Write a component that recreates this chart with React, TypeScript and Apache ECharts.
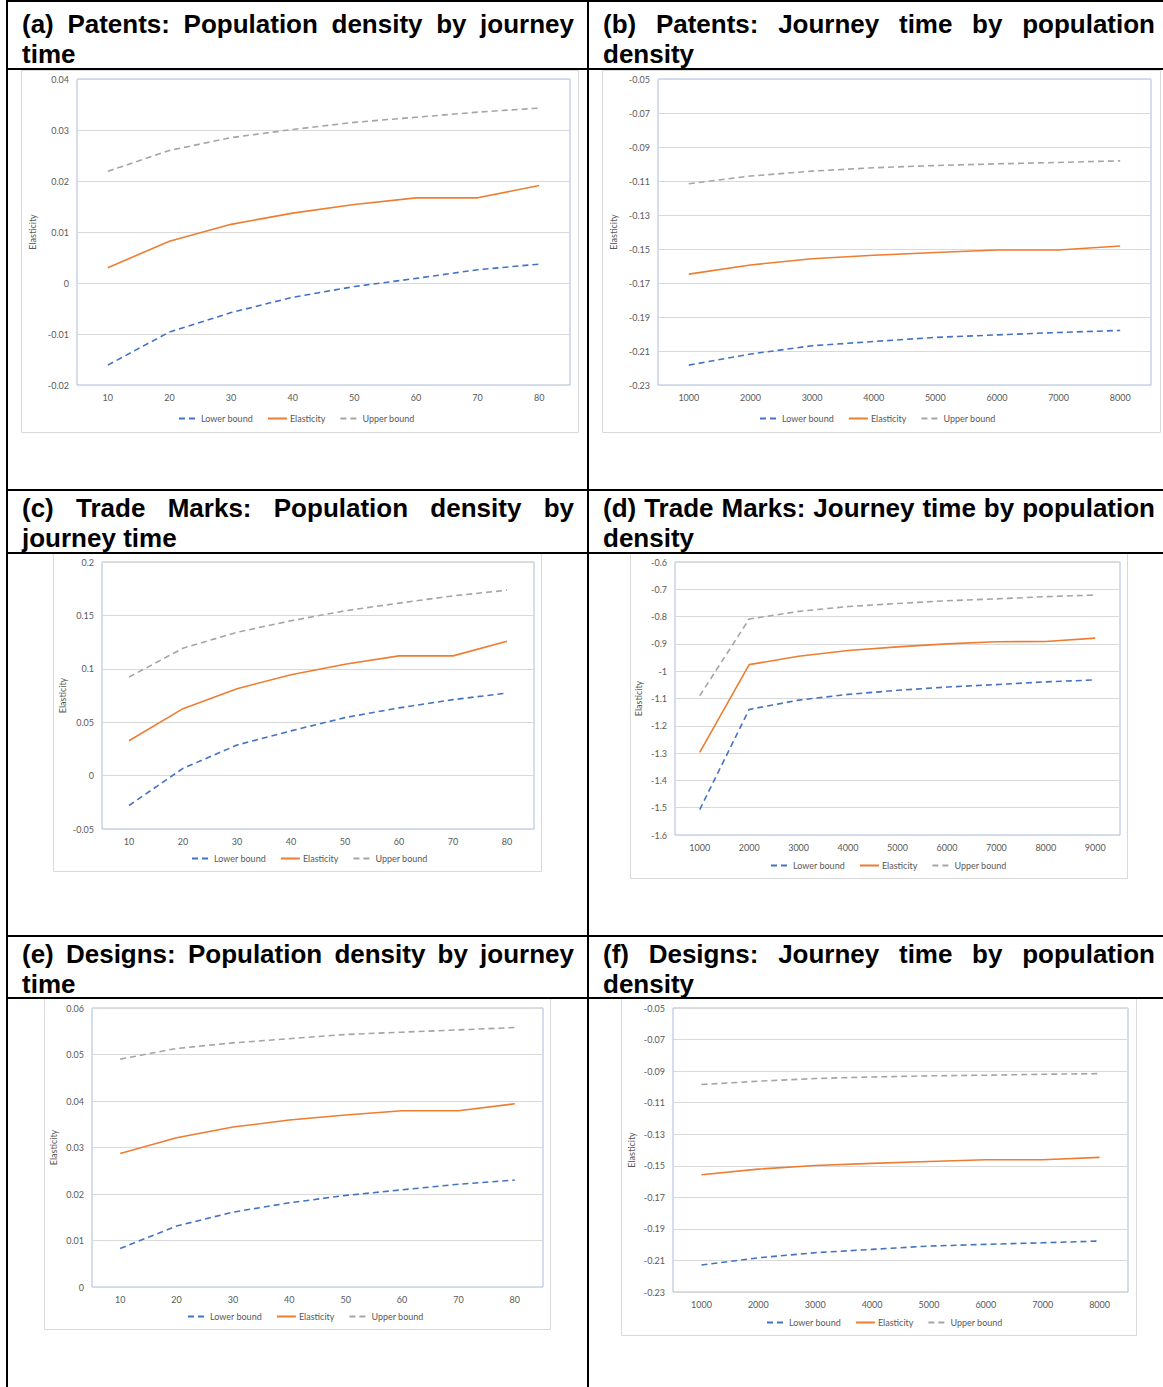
import React, { useEffect, useRef } from "react";
import * as echarts from "echarts";

// ---------- DATA ----------
const journeyCats = ["10", "20", "30", "40", "50", "60", "70", "80"];
const densityCats8 = ["1000", "2000", "3000", "4000", "5000", "6000", "7000", "8000"];
const densityCats9 = ["1000", "2000", "3000", "4000", "5000", "6000", "7000", "8000", "9000"];

const SERIES_NAMES = ["Lower bound", "Elasticity", "Upper bound"];

// (a) Patents: Population density by journey time
const aLower = [-0.0161, -0.0096, -0.0058, -0.0028, -0.0007, 0.0009, 0.0026, 0.0037];
const aElast = [0.003, 0.0082, 0.0115, 0.0137, 0.0154, 0.0167, 0.0167, 0.0191];
const aUpper = [0.0219, 0.026, 0.0285, 0.0301, 0.0315, 0.0325, 0.0335, 0.0343];
const aTicks = [-0.02, -0.01, 0, 0.01, 0.02, 0.03, 0.04];

// (b) Patents: Journey time by population density
const bLower = [-0.2183, -0.2118, -0.2069, -0.2044, -0.202, -0.2005, -0.1991, -0.1979];
const bElast = [-0.1648, -0.1594, -0.1557, -0.1537, -0.1521, -0.1506, -0.1506, -0.1482];
const bUpper = [-0.1116, -0.1071, -0.1042, -0.1022, -0.1009, -0.0999, -0.0991, -0.0981];
const bTicks = [-0.23, -0.21, -0.19, -0.17, -0.15, -0.13, -0.11, -0.09, -0.07, -0.05];

// (c) Trade Marks: Population density by journey time
const cLower = [-0.028, 0.0068, 0.0286, 0.0419, 0.0543, 0.0634, 0.0711, 0.0773];
const cElast = [0.0326, 0.0627, 0.0814, 0.0944, 0.1043, 0.1121, 0.1121, 0.1258];
const cUpper = [0.0922, 0.1193, 0.1342, 0.145, 0.1543, 0.1615, 0.1683, 0.1736];
const cTicks = [-0.05, 0, 0.05, 0.1, 0.15, 0.2];

// (d) Trade Marks: Journey time by population density
const dLower = [-1.507, -1.14, -1.106, -1.085, -1.07, -1.058, -1.049, -1.039, -1.032];
const dElast = [-1.297, -0.976, -0.945, -0.924, -0.911, -0.9, -0.892, -0.891, -0.879];
const dUpper = [-1.09, -0.809, -0.781, -0.763, -0.752, -0.742, -0.735, -0.727, -0.721];
const dTicks = [-1.6, -1.5, -1.4, -1.3, -1.2, -1.1, -1, -0.9, -0.8, -0.7, -0.6];

// (e) Designs: Population density by journey time
const eLower = [0.0083, 0.0131, 0.0161, 0.0181, 0.0197, 0.0209, 0.0221, 0.023];
const eElast = [0.0287, 0.0321, 0.0344, 0.0359, 0.037, 0.0379, 0.0379, 0.0394];
const eUpper = [0.049, 0.0513, 0.0525, 0.0534, 0.0543, 0.0548, 0.0553, 0.0558];
const eTicks = [0, 0.01, 0.02, 0.03, 0.04, 0.05, 0.06];

// (f) Designs: Journey time by population density
const fLower = [-0.2129, -0.2083, -0.2051, -0.203, -0.2009, -0.1998, -0.1988, -0.1977];
const fElast = [-0.1557, -0.1521, -0.1498, -0.1485, -0.1473, -0.1462, -0.1462, -0.1447];
const fUpper = [-0.0985, -0.0964, -0.0947, -0.0937, -0.093, -0.0926, -0.092, -0.0916];
const fTicks = [-0.23, -0.21, -0.19, -0.17, -0.15, -0.13, -0.11, -0.09, -0.07, -0.05];

const headerTexts = [
  "(a) Patents: Population density by journey time",
  "(b) Patents: Journey time by population density",
  "(c) Trade Marks: Population density by journey time",
  "(d) Trade Marks: Journey time by population density",
  "(e) Designs: Population density by journey time",
  "(f) Designs: Journey time by population density",
];

// ---------- LAYOUT ----------
const W = 1163;
const H = 1387;
const FONT = "Lato, 'Liberation Sans', sans-serif";
const LABEL_COLOR = "#595959";

const panels = [
  {
    cats: journeyCats, series: [aLower, aElast, aUpper], ticks: aTicks,
    grid: { left: 77, top: 79, width: 493, height: 306 },
    box: { x: 21, y: 70, w: 557, h: 362 }, legend: { left: 178, cy: 419 }, nameGap: 40,
  },
  {
    cats: densityCats8, series: [bLower, bElast, bUpper], ticks: bTicks,
    grid: { left: 658, top: 79, width: 493, height: 306 },
    box: { x: 602, y: 70, w: 558, h: 362 }, legend: { left: 759, cy: 419 }, nameGap: 40,
  },
  {
    cats: journeyCats, series: [cLower, cElast, cUpper], ticks: cTicks,
    grid: { left: 102, top: 562, width: 432, height: 267 },
    box: { x: 53, y: 553, w: 488, h: 318 }, legend: { left: 191, cy: 859 }, nameGap: 35,
  },
  {
    cats: densityCats9, series: [dLower, dElast, dUpper], ticks: dTicks,
    grid: { left: 675, top: 562, width: 445, height: 273 },
    box: { x: 630, y: 553, w: 497, h: 325 }, legend: { left: 770, cy: 866 }, nameGap: 32,
  },
  {
    cats: journeyCats, series: [eLower, eElast, eUpper], ticks: eTicks,
    grid: { left: 92, top: 1008, width: 451, height: 279 },
    box: { x: 44, y: 998, w: 506, h: 331 }, legend: { left: 187, cy: 1317 }, nameGap: 34,
  },
  {
    cats: densityCats8, series: [fLower, fElast, fUpper], ticks: fTicks,
    grid: { left: 673, top: 1008, width: 455, height: 284 },
    box: { x: 621, y: 998, w: 515, h: 337 }, legend: { left: 766, cy: 1323 }, nameGap: 37,
  },
];

const headerPos = [
  { left: 22, top: 9 },
  { left: 603, top: 9 },
  { left: 22, top: 493 },
  { left: 603, top: 493 },
  { left: 22, top: 939 },
  { left: 603, top: 939 },
];

const vLines = [6, 587];
const hLines = [0, 68, 489, 552, 935, 997];

const seriesStyles = [
  { color: "#4472C4", type: [6, 4] as any, width: 1.6 },
  { color: "#ED7D31", type: "solid" as any, width: 1.6 },
  { color: "#A5A5A5", type: [6, 4] as any, width: 1.6 },
];

function fmt(v: number) {
  return String(parseFloat(Number(v).toFixed(4)));
}

export default function App() {
  const ref = useRef<HTMLDivElement>(null);

  useEffect(() => {
    if (!ref.current) return;
    const chart = echarts.init(ref.current, undefined, { renderer: "svg" });

    const grid = panels.map((p) => ({
      left: p.grid.left,
      top: p.grid.top,
      width: p.grid.width,
      height: p.grid.height,
      show: true,
      borderColor: "#A9BCDB",
      borderWidth: 1,
      backgroundColor: "transparent",
    }));

    const xAxis = panels.map((p, i) => ({
      type: "category",
      gridIndex: i,
      data: p.cats,
      boundaryGap: true,
      axisLine: { show: false },
      axisTick: { show: false },
      splitLine: { show: false },
      axisLabel: { color: LABEL_COLOR, fontSize: 9, margin: 8, fontFamily: FONT, interval: 0 },
    }));

    const yAxis = panels.map((p, i) => ({
      type: "value",
      gridIndex: i,
      min: p.ticks[0],
      max: p.ticks[p.ticks.length - 1],
      axisLine: { show: false },
      axisTick: { show: false, customValues: p.ticks },
      axisLabel: {
        customValues: p.ticks,
        formatter: (v: number) => fmt(v),
        color: LABEL_COLOR,
        fontSize: 9,
        margin: 8,
        fontFamily: FONT,
      },
      splitLine: { show: true, lineStyle: { color: "#D9D9D9", width: 1 } },
      name: "Elasticity",
      nameLocation: "middle",
      nameRotate: 90,
      nameGap: p.nameGap,
      nameTextStyle: { color: LABEL_COLOR, fontSize: 9, fontFamily: FONT },
    }));

    const series: any[] = [];
    panels.forEach((p, i) => {
      p.series.forEach((data, k) => {
        series.push({
          type: "line",
          name: SERIES_NAMES[k],
          xAxisIndex: i,
          yAxisIndex: i,
          data,
          symbol: "none",
          smooth: false,
          lineStyle: { color: seriesStyles[k].color, width: seriesStyles[k].width, type: seriesStyles[k].type },
          itemStyle: { color: seriesStyles[k].color },
        });
      });
    });

    const legend = panels.map((p) => ({
      data: SERIES_NAMES,
      left: p.legend.left,
      top: p.legend.cy - 5,
      orient: "horizontal",
      padding: 0,
      itemWidth: 19,
      itemHeight: 10,
      itemGap: 14,
      selectedMode: false,
      itemStyle: { color: "transparent", borderColor: "transparent", borderWidth: 0, opacity: 0 },
      textStyle: { color: LABEL_COLOR, fontSize: 9, fontFamily: FONT, padding: [0, 0, 0, -2] },
    }));

    const graphic = panels.map((p) => ({
      type: "rect",
      silent: true,
      z: -10,
      shape: { x: p.box.x + 0.5, y: p.box.y + 0.5, width: p.box.w, height: p.box.h },
      style: { fill: "none", stroke: "#D9D9D9", lineWidth: 1 },
    }));

    chart.setOption({
      animation: false,
      backgroundColor: "#ffffff",
      textStyle: { fontFamily: FONT },
      grid,
      xAxis,
      yAxis,
      series,
      legend,
      graphic,
    } as any);

    return () => {
      chart.dispose();
    };
  }, []);

  return (
    <div
      style={{
        position: "absolute",
        left: 0,
        top: 0,
        width: W,
        height: H,
        background: "#fff",
        overflow: "hidden",
      }}
    >
      <div ref={ref} style={{ position: "absolute", left: 0, top: 0, width: W, height: H }} />
      {headerTexts.map((t, i) => (
        <div
          key={i}
          style={{
            position: "absolute",
            left: headerPos[i].left,
            top: headerPos[i].top,
            width: 552,
            fontFamily: "'Liberation Sans', Arial, sans-serif",
            fontWeight: "bold",
            fontSize: 26,
            lineHeight: "30px",
            textAlign: "justify",
            color: "#000",
            background: "transparent",
          }}
        >
          {t}
        </div>
      ))}
      {vLines.map((x, i) => (
        <div key={"v" + i} style={{ position: "absolute", left: x, top: 0, width: 2, height: H, background: "#000" }} />
      ))}
      {hLines.map((y, i) => (
        <div key={"h" + i} style={{ position: "absolute", left: 6, top: y, width: W - 6, height: 2, background: "#000" }} />
      ))}
    </div>
  );
}
